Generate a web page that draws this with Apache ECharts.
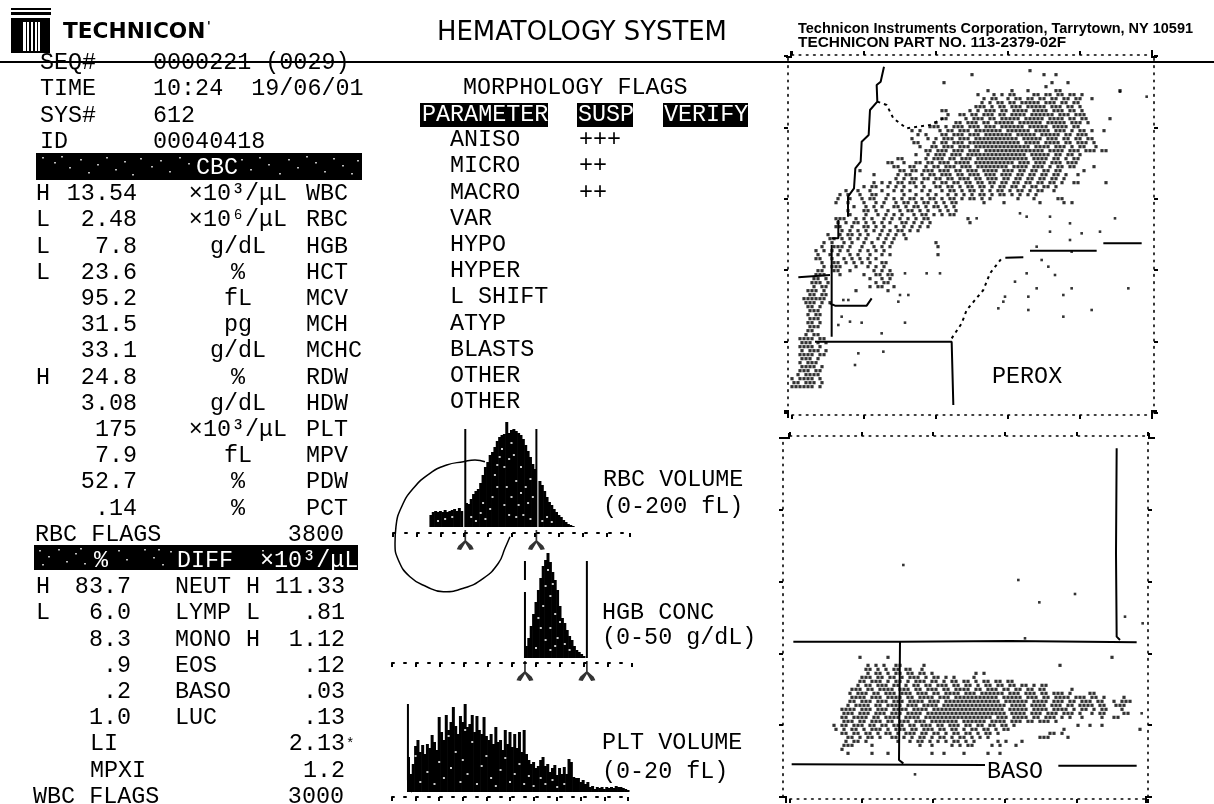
<!DOCTYPE html>
<html>
<head>
<meta charset="utf-8">
<style>html,body{margin:0;padding:0;background:#fff}#main{width:1214px;height:804px}</style>
<script src="https://cdn.jsdelivr.net/npm/echarts@6/dist/echarts.min.js"></script>
</head>
<body>
<div id="main"></div>
<script>
// printed report text
var seqRows = [['SEQ#','0000221 (0029)'],['TIME','10:24  19/06/01'],['SYS#','612'],['ID','00040418']];
var cbcRows = [
  ['H','13.54','×10³/μL','WBC'],['L','2.48','×10⁶/μL','RBC'],['L','7.8','g/dL','HGB'],['L','23.6','%','HCT'],
  ['','95.2','fL','MCV'],['','31.5','pg','MCH'],['','33.1','g/dL','MCHC'],['H','24.8','%','RDW'],
  ['','3.08','g/dL','HDW'],['','175','×10³/μL','PLT'],['','7.9','fL','MPV'],['','52.7','%','PDW'],['','.14','%','PCT']
];
var diffRows = [
  ['H','83.7','NEUT','H','11.33'],['L','6.0','LYMP','L','.81'],['','8.3','MONO','H','1.12'],
  ['','.9','EOS','','.12'],['','.2','BASO','','.03'],['','1.0','LUC','','.13']
];
var morphRows = [['ANISO','+++'],['MICRO','++'],['MACRO','++'],['VAR',''],['HYPO',''],['HYPER',''],['L SHIFT',''],['ATYP',''],['BLASTS',''],['OTHER',''],['OTHER','']];

// histograms
var rbcFl = [32,34,36,38,40,42,44,46,48,50,52,54,56,58,60,62,64,66,68,70,72,74,76,78,80,82,84,86,88,90,92,94,96,98,100,102,104,106,108,110,112,114,116,118,120,122,124,126,128,130,132,134,136,138,140,142,144,146,148,150,152];
var rbcCounts = [12,15,16,15,16,15,17,15,16,17,18,16,19,16,0,24,23,28,33,36,38,44,52,60,65,72,75,80,86,90,92,93,105,94,97,98,96,94,92,88,82,76,70,63,58,0,46,42,36,30,25,22,18,15,12,10,7,5,3,2,1];
var rbcGates = [61,121];
var rbcCircle = [[77.6,65.3],[69.2,67],[59.4,65.3],[45.3,62],[31.2,53.7],[17.2,38.7],[7.3,20.3],[2.5,0.3],[1.7,-16.3],[4.5,-33],[14.3,-49.7],[28.4,-59.7],[42.5,-64.7],[59.4,-61.3],[76.2,-51.3],[88.9,-36.3],[94.5,-21.3],[98.7,-9.7]];
var rbcSpecks = [[66,10],[70,6],[74,14],[78,8],[84,30],[86,52],[88,62],[90,70],[92,78],[94,60],[94,22],[96,40],[98,12],[98,68],[100,84],[100,30],[102,72],[104,46],[104,10],[106,22],[108,34],[108,60],[110,12],[112,40],[114,24],[116,8],[116,48],[118,30],[88,40],[82,18],[76,24],[126,6],[130,10],[44,8],[50,10],[38,6],[134,5]];
var hgbConc = [28,28.5,29,29.5,30,30.5,31,31.5,32,32.5,33,33.5,34,34.5,35,35.5,36,36.5,37,37.5,38,38.5,39,39.5,40];
var hgbCounts = [12,20,32,44,56,68,80,92,98,105,96,86,78,68,52,40,35,28,22,18,12,8,6,4,2];
var hgbGates = [27.7,40.6];
var hgbSpecks = [[30,10],[31,30],[31.5,52],[32,72],[32.5,88],[33,62],[33,30],[33.5,74],[34,12],[34,44],[34.5,20],[35,36],[36,14],[32,18],[30.5,40],[37,8],[33,8]];
var pltFl = [1.4,1.6,1.8,2,2.2,2.4,2.6,2.8,3,3.2,3.4,3.6,3.8,4,4.2,4.4,4.6,4.8,5,5.2,5.4,5.6,5.8,6,6.2,6.4,6.6,6.8,7,7.2,7.4,7.6,7.8,8,8.2,8.4,8.6,8.8,9,9.2,9.4,9.6,9.8,10,10.2,10.4,10.6,10.8,11,11.2,11.4,11.6,11.8,12,12.2,12.4,12.6,12.8,13,13.2,13.4,13.6,13.8,14,14.2,14.4,14.6,14.8,15,15.2,15.4,15.6,15.8,16,16.2,16.4,16.6,16.8,17,17.2,17.4,17.6,17.8,18,18.2,18.4,18.6,18.8,19,19.2,19.4,19.6,19.8,20];
var pltCounts = [35,18,28,46,52,40,47,38,48,44,57,50,42,75,60,52,77,62,70,85,66,58,76,70,88,65,68,77,60,76,62,58,75,56,52,58,48,65,50,52,42,62,48,60,45,58,44,60,40,62,38,32,28,30,24,26,32,35,26,28,20,24,27,17,24,18,25,18,33,30,15,14,14,10,12,8,10,5,6,3,5,4,5,3,5,4,5,4,6,5,5,4,3,2];
var pltGate = [[1.35,88],[1.35,12],[1.5,4],[1.7,0]];
var pltSpecks = [[2.4,10],[3,20],[3.6,8],[4,30],[4.4,14],[5,24],[5.4,40],[5.8,10],[6,32],[6.4,18],[6.8,50],[7.2,8],[7.6,26],[8,36],[8.4,14],[8.8,6],[9.2,22],[9.6,34],[10,10],[10.4,18],[10.8,28],[11.2,8],[11.6,16],[12,6],[12.6,14],[13,8],[13.6,12],[14,5],[14.6,8],[2,36],[4.8,56],[6.2,62]];

// scatter cells: "column pattern column pattern", one string per print row
var peroxCells = [
"", "59 #", "45 # 63 # 66 #", "", "38 # 65 # 69 #", "63 #",
"49 # 55 # 59 # 66 ## 82 #",
"46 # 50 #.#.## 60 ##.##.##.##.#",
"48 #.##..#.##.##.##.##.##.## 75 #",
"47 #.#.##.##.#####.###.##.##",
"46 ###.#.##.###.#####.###.##.#",
"37 ## 44 #.#.###.##.####.####.###.##.#",
"39 # 42 ##.##.###.##.####.######.###.###",
"37 ## 43 #.###.##.#####.#####.####.##.## 79 #",
"36 # 41 ##.###.##.#####.######.#####.###.#",
"34 ### 38 # 40 ###.###.###.######.#####.####.##",
"30 # 32 # 37 #.##.###.#######.######.####.###.#.##.# 78 #",
"31 # 33 # 37 ##.###.###.#######.#####.#####.##.###",
"30 # 34 # 36 #.###.###.###########.#####.###.##.##.##",
"30 ## 35 #.##.###.#############.####.####.##.###.#",
"32 # 35 ##.###.###.##############.####.###.#.## 76 #",
"33 ##.###.###.###.###############.####.###.###.##",
"31 # 34 #.###.###.###############.#####.##.##.#",
"26 ## 33 #.###.##.###.#############.####.##.#.##",
"24 ## 28 # 31 ## 34 ##.###.####.##########.###.###.###.###",
"25 ## 29 ## 33 #.##.###.###.########.####.###.#.##.## 75 #",
"17 # 27 ## 30 ## 33 ###.###.##.###.####.###.##.##.##.##. 73 #",
"20 # 26 # 28 ## 32 #.##.###.##.###.###.###.##.##.##.##.# 71 #",
"26 # 28 # 30 ## 33 ##.##.##.###.##.###.##.##.##.##.##.#",
"20 # 22 # 24 # 26 ## 29 ## 32 # 35 #.##.##.##.##.##.##.##.##.##.##.# 70 ## 78 #",
"18 # 20 ## 24 # 26 # 28 # 31 # 33 # 36 ##.##.#.##.##.#.##.##.#.##.##.#",
"13 # 16 # 19 # 22 # 25 # 27 # 29 # 32 # 34 # 37 #.##.#.##.#.#.##.#.##.#.##. 65 #",
"12 #.#..#..##..#...#..#..# 36 #..#.#.#.#.##.#.##.#.#.#.#",
"11 # 14 # 17 #.# 20 #..#.#.#.##.#.##.#.##.#.##.#.# 56 # 60 # 66 ##",
"11 # 14 # 18 #..#.#..#.##.#.##.#.#.## 48 # 53 # 62 # 68 # 70 #",
"15 # 18 #.#.#..##.#.##.#.##.#.#",
"14 # 18 ##.#..#..#.##.#.#..#.#.#",
"14 # 18 #..#.#.#.#..#.##.#.#.##",
"11 # 12 ## 16 #.#.#..#.#.#.#.#.## 44 #",
"11 # 13 #.##.#.#.#.#..##.#.#.# 44 #",
"11 ## 15 #..##.#.#..#.#.#.#.#",
"12 # 14 #.#.#.#.#.#.##.#.#",
"9 # 12 #.##.#.#..#.#.#.#",
"9 ## 12 #.#.#.#..#.#.#..#",
"8 # 10 #..#.#..#.#..#.# 36 #",
"7 # 10 ###.#..#..#.#.# 36 #",
"6 # 8 # 10 #.#.#..#.#.#.#",
"6 # 9 #.# 14 #.#..#..#.# 36 #",
"6 ## 10 # 13 #.#.#.#.#",
"7 # 10 ##.# 15 #.#.#..##",
"8 # 10 ### 16 # 19 #.#.#",
"6 ## 10 ## 14 # 20 #.# 24 #",
"6 ### 12 # 18 # 21 ##.##",
"5 ## 8 # 19 # 22 #.#",
"5 ### 9 # 21 # 23 ##",
"5 #.## 19 # 21 ## 25 #",
"4 ###.# 16 # 24 #",
"4 ##.##",
"3 #### 7 ##",
"3 ###.#.#",
"4 ##.#", "4 ###", "4 #.##", "4 ###", "4 ##.#", "4 ###", "4 ##",
"3 #.##",
"2 #### 7 ##",
"2 ###.#.#",
"2 ####.#",
"2 #.###.#",
"2 ####.##",
"2 ###.#",
"2 #.###",
"2 #### 7 #",
"2 ###.##",
"1 #.####",
"0 # 2 ####.#",
"0 ##.###.#",
"0 ######.#"
];
var peroxStray = [[684,599],[554,584],[704,589],[774,589],[969,584],[834,569],[924,544],[869,539],[774,544],[834,519],[734,499],[839,484],[749,459],[769,439],[704,419],[789,414],[669,394],[734,374],[839,374],[1009,374],[709,349],[639,349],[814,354],[634,334],[709,309],[899,309],[619,314],[814,289],[404,419],[444,419],[339,419],[324,354],[349,354],[319,334],[154,339],[169,339],[149,289],[139,264],[174,274],[209,271],[339,271],[269,239],[274,184],[199,179],[189,144],[1064,949],[984,964]];
var peroxSolid = [[276,1039],[266,994],[254,984],[256,934],[234,909],[230,834],[209,814],[206,754],[190,734],[186,674],[168,649],[168,589],'-',[139,579],[139,524],[119,524],'-',[19,407],[114,414],'-',[119,504],[119,229],'-',[114,329],[129,322],[224,322],[239,344],'-',[69,214],[479,214],[484,24],'-',[640,466],[694,467],'-',[714,487],[914,487],'-',[934,509],[1049,509]];
var peroxDash = [[256,934],[284,924],[304,884],[344,854],[414,864],[454,884],'-',[479,224],[509,269],[524,309],[574,369],[594,419],[629,464]];

var basoCells = [
"", "17 # 24 # 80 #", "",
"19 #.#.#..# 27 # 33 # 67 #",
"19 ##.#.# 26 ##.## 33 #",
"19 #.##.#.##.##.##.# 46 # 48 #",
"18 ###.##.##.#.###.#.##.#.# 46 #",
"17 ##.###.#.##.#.###.##.#.##.##.#.##.##.# 55 #",
"17 #.##.###.##.#.##.##.###.##.##.#.##.##.## 58 ##.#.##",
"15 ###.##.####.###.##.###.##.####.##.###.##.##.##.## 70 #",
"15 #.###.##.###.###.###.##.####.###.######.###.###.##.###.# 75 ##",
"15 ####.###.####.##.####.###.###########.#####.###.##.####.###.##.# 83 #",
"15 ##.###.###.###.####.###.##############.######.####.###.##.###.## 81 #.## 85 #",
"14 #.####.##.####.###.####.################.####.####.###.##.####.## 81 ###",
"13 ####.###.###.####.####.##################.#####.####.####.#.##.# 78 ## 83 #",
"13 ###.###.###.###.####.####################.####.###.###.###.# 75 #.## 83 ##",
"13 ##.####.##.####.####.#################.###.####.##.###.#.# 73 # 78 # 81 ##",
"13 ###.##.###.##.###.###.#######.######.####.###.##.###.#",
"11 # 13 ##.###.##.##.###.##.###.##.###.##.##.##.##.# 72 # 75 # 78 #",
"11 # 13 #.##.#.###.#.###.##.###.##.##.#.##.##.#.## 68 # 87 #",
"13 ##.##.##.#.##.#.###.##.##.#.##.##.#.##.# 65 ## 68 #",
"14 ##.#.##.#..##.#.#.##.#.##.#.##.#.#.# 62 ## 64 # 69 #",
"14 #.##.# 27 # 30 #.##.#.#.#.##.#.# 52 #.# 58 #",
"13 ## 15 # 20 # 32 # 35 # 40 #.#.## 50 #.# 56 #",
"13 #",
"14 # 20 # 24 # 35 # 38 # 43 # 49 # 52 #"
];
var basoStray = [[340,696],[685,651],[855,609],[748,584],[1005,541],[1058,521],[705,476],[375,68],[1055,251]];
var basoSolid = [[10,466],[330,466],[660,468],[1040,464],'-',[980,1046],[978,731],[980,481],[990,471],'-',[330,466],[327,111],[340,101],'-',[5,98],[585,96],'-',[805,94],[1040,94]];

function decodeCells(rows, topValue) {
  var pts = [];
  rows.forEach(function (row, r) {
    var parts = row.split(' ');
    for (var i = 0; i + 1 < parts.length; i += 2) {
      var start = +parts[i];
      parts[i + 1].split('').forEach(function (ch, k) {
        if (ch === '#') pts.push([(start + k) * 12 + (r % 2 ? 6 : 0), topValue - r * 12]);
      });
    }
  });
  return pts;
}
function pairs(xs, ys) { return xs.map(function (x, i) { return [x, ys[i]]; }); }
function gateLine(x, top) { return [[x, top], [x, 0]]; }

var mono = '23.4px "Liberation Mono"';
var graphics = [];
function txt(s, x, y, align, fill, font) {
  if (!s) return;
  graphics.push({ type: 'text', x: x, y: y, z: 50, style: { text: s, font: font || mono, fill: fill || '#000', textAlign: align || 'left', textVerticalAlign: 'middle' } });
}
function box(x, y, w, h) { graphics.push({ type: 'rect', z: 40, shape: { x: x, y: y, width: w, height: h }, style: { fill: '#000' } }); }
function specks(x, y, list) {
  list.forEach(function (p) {
    graphics.push({ type: 'rect', z: 45, shape: { x: x + p[0], y: y + p[1], width: 2, height: 1.5 }, style: { fill: '#bbb' } });
  });
}
function corner(pts) { graphics.push({ type: 'polyline', z: 30, shape: { points: pts }, style: { stroke: '#000', lineWidth: 2, fill: 'none' } }); }
function rowY(i) { return 63 + 26.2 * i; }

// rule and logo
graphics.push({ type: 'line', z: 30, shape: { x1: 0, y1: 62, x2: 1214, y2: 62 }, style: { stroke: '#000', lineWidth: 2 } });
box(11, 8, 40, 2); box(11, 12, 40, 3); box(11, 18, 39, 35);
[[23, 3], [27, 2], [31, 2], [35, 2], [38, 2]].forEach(function (s) {
  graphics.push({ type: 'rect', z: 41, shape: { x: s[0], y: 22, width: s[1], height: 29 }, style: { fill: '#fff' } });
});
txt("TECHNICON", 63, 32, 'left', '#000', 'bold 21.7px "DejaVu Sans"');
txt("'", 207, 27, 'left', '#000', 'bold 12px "DejaVu Sans"');
txt('HEMATOLOGY SYSTEM', 437, 33, 'left', '#000', '25.9px "DejaVu Sans"');
txt('Technicon Instruments Corporation, Tarrytown, NY 10591', 798, 29, 'left', '#000', 'bold 14.5px "Liberation Sans"');
txt('TECHNICON PART NO. 113-2379-02F', 798, 43, 'left', '#000', 'bold 15.4px "Liberation Sans"');

// frame corners
corner([[786, 57], [791, 57], [791, 51]]); corner([[1152, 50], [1152, 57], [1157, 57]]);
corner([[784, 411], [788, 411], [788, 418]]); corner([[1152, 418], [1152, 411], [1157, 411]]);
corner([[782, 438], [789, 438], [789, 433]]); corner([[1149, 433], [1149, 438], [1155, 438]]);
corner([[779, 797], [786, 797], [786, 803]]); corner([[1146, 803], [1146, 797], [1152, 797]]);

// left column
var cbcNoise = [[6,4],[18,9],[25,3],[33,14],[44,6],[52,19],[61,11],[70,4],[79,16],[88,8],[96,21],[104,5],[115,13],[124,7],[133,18],[143,4],[152,10],[205,6],[214,16],[223,4],[232,11],[243,20],[252,6],[261,14],[270,3],[279,9],[288,18],[297,5],[306,12],[315,20],[321,7]];
var diffNoise = [[5,5],[14,11],[24,4],[32,16],[41,8],[50,18],[84,5],[92,14],[110,4],[119,12],[128,19],[136,6],[228,5],[236,17],[8,19],[46,3],[124,4],[72,17]];
seqRows.forEach(function (r, i) { txt(r[0], 40, rowY(i)); txt(r[1], 153, rowY(i)); });
box(36, 153, 326, 27); specks(36, 153, cbcNoise); txt('CBC', 196, rowY(4), 'left', '#fff');
cbcRows.forEach(function (r, i) {
  var y = rowY(5 + i);
  txt(r[0], 36, y); txt(r[1], 137, y, 'right'); txt(r[2], 238, y, 'center'); txt(r[3], 306, y);
});
txt('RBC FLAGS', 35, rowY(18)); txt('3800', 344, rowY(18), 'right');
box(34, 545, 324, 25); specks(34, 545, diffNoise); txt('%', 94, rowY(19), 'left', '#fff'); txt('DIFF', 177, rowY(19), 'left', '#fff'); txt('×10³/μL', 260, rowY(19), 'left', '#fff');
diffRows.forEach(function (r, i) {
  var y = rowY(20 + i);
  txt(r[0], 36, y); txt(r[1], 131, y, 'right'); txt(r[2], 175, y); txt(r[3], 246, y); txt(r[4], 345, y, 'right');
});
txt('LI', 90, rowY(26)); txt('2.13', 345, rowY(26), 'right'); txt('*', 346, rowY(26), 'left', '#000', '14px "Liberation Mono"');
txt('MPXI', 90, rowY(27)); txt('1.2', 345, rowY(27), 'right');
txt('WBC FLAGS', 33, rowY(28)); txt('3000', 344, rowY(28), 'right');

// middle column
txt('MORPHOLOGY FLAGS', 463, 88);
box(420, 103, 128, 24); box(577, 103, 56, 24); box(663, 103, 85, 24);
txt('PARAMETER', 422, 115, 'left', '#fff'); txt('SUSP', 578, 115, 'left', '#fff'); txt('VERIFY', 664, 115, 'left', '#fff');
morphRows.forEach(function (r, i) { txt(r[0], 450, 140 + 26.2 * i); txt(r[1], 579, 140 + 26.2 * i); });
txt('RBC VOLUME', 603, 480); txt('(0-200 fL)', 603, 507);
txt('HGB CONC', 602, 613); txt('(0-50 g/dL)', 602, 638);
txt('PLT VOLUME', 602, 743); txt('(0-20 fL)', 602, 772);
txt('PEROX', 992, 377); txt('BASO', 987, 772);

// axis helpers
function frameAxis(gridIndex, position, max, offset) {
  return {
    type: 'value', gridIndex: gridIndex, position: position, min: 0, max: max, interval: max / 5, offset: offset,
    axisLine: { show: true, onZero: false, lineStyle: { color: '#000', width: 1.6, type: [1.6, 5.6] } },
    axisTick: { show: true, inside: false, length: 4, lineStyle: { color: '#000', width: 2 } },
    axisLabel: { show: false }, splitLine: { show: false }
  };
}
function histX(gridIndex, max, interval, offset) {
  return {
    type: 'value', gridIndex: gridIndex, position: 'bottom', min: 0, max: max, interval: interval, offset: offset,
    axisLine: { show: true, onZero: false, lineStyle: { color: '#000', width: 2, type: [2, 10] } },
    axisTick: { show: true, inside: false, length: 4, lineStyle: { color: '#000', width: 2 } },
    axisLabel: { show: false }, splitLine: { show: false }
  };
}
function hiddenY(gridIndex, min, max) {
  return { type: 'value', gridIndex: gridIndex, min: min, max: max, show: false, splitLine: { show: false } };
}
function barSeries(i, data) {
  return { type: 'bar', xAxisIndex: i, yAxisIndex: i, data: data, barWidth: 3, itemStyle: { color: '#000' }, silent: true };
}
function lineSeries(x, y, data, width, dash, smooth) {
  return { type: 'line', xAxisIndex: x, yAxisIndex: y, data: data, showSymbol: false, smooth: !!smooth, silent: true, connectNulls: false, clip: false,
    lineStyle: { color: '#000', width: width, type: dash || 'solid' } };
}
function dotSeries(x, y, data, size, color) {
  return { type: 'scatter', xAxisIndex: x, yAxisIndex: y, data: data, symbol: 'rect', symbolSize: size, itemStyle: { color: color || '#000' }, silent: true, z: color ? 5 : 2 };
}
var gateMark = 'path://M9 0h2v12l7 6 2 4-5 1-5-8-5 8-5-1 2-4 7-6z';
function markSeries(i, data) {
  return { type: 'scatter', xAxisIndex: i, yAxisIndex: i, data: data, symbol: gateMark, symbolSize: [17, 20], itemStyle: { color: '#000' }, silent: true };
}

var option = {
  animation: false,
  backgroundColor: '#fff',
  graphic: graphics,
  grid: [
    { left: 393, top: 422, width: 237, height: 178 },
    { left: 392, top: 553, width: 240, height: 132 },
    { left: 392, top: 703, width: 236, height: 97 },
    { left: 792, top: 56, width: 360, height: 357 },
    { left: 790, top: 438, width: 358, height: 359 }
  ],
  xAxis: [
    histX(0, 200, 20, -67),
    histX(1, 50, 5, -22),
    histX(2, 20, 2, -3),
    frameAxis(3, 'bottom', 1080, 2), frameAxis(4, 'bottom', 1074, 2),
    frameAxis(3, 'top', 1080, 1), frameAxis(4, 'top', 1074, 2)
  ],
  yAxis: [
    hiddenY(0, -73, 105),
    hiddenY(1, -27, 105),
    hiddenY(2, -8, 89),
    frameAxis(3, 'left', 1071, 4), frameAxis(4, 'left', 1077, 7),
    frameAxis(3, 'right', 1071, 2), frameAxis(4, 'right', 1077, 0)
  ],
  series: [
    barSeries(0, pairs(rbcFl, rbcCounts)),
    dotSeries(0, 0, rbcSpecks, 2, '#fff'),
    lineSeries(0, 0, gateLine(rbcGates[0], 98), 2),
    lineSeries(0, 0, gateLine(rbcGates[1], 98), 2),
    lineSeries(0, 0, rbcCircle, 1.5, 'solid', true),
    markSeries(0, [[rbcGates[0], -13], [rbcGates[1], -13]]),
    barSeries(1, pairs(hgbConc, hgbCounts)),
    dotSeries(1, 1, hgbSpecks, 2, '#fff'),
    lineSeries(1, 1, [[hgbGates[0], 97], [hgbGates[0], 78], '-', [hgbGates[0], 66], [hgbGates[0], 0]], 2),
    lineSeries(1, 1, gateLine(hgbGates[1], 97), 2),
    markSeries(1, [[hgbGates[0], -13], [hgbGates[1], -13]]),
    barSeries(2, pairs(pltFl, pltCounts)),
    dotSeries(2, 2, pltSpecks, 2, '#fff'),
    lineSeries(2, 2, pltGate, 2),
    dotSeries(3, 3, decodeCells(peroxCells, 1039), 3.2),
    dotSeries(3, 3, peroxStray, 2.6),
    lineSeries(3, 3, peroxSolid, 2),
    lineSeries(3, 3, peroxDash, 2, [3, 4]),
    dotSeries(4, 4, decodeCells(basoCells, 431), 3.2),
    dotSeries(4, 4, basoStray, 2.6),
    lineSeries(4, 4, basoSolid, 2)
  ]
};
var myChart = echarts.init(document.getElementById('main'));
myChart.setOption(option);
</script>
</body>
</html>
